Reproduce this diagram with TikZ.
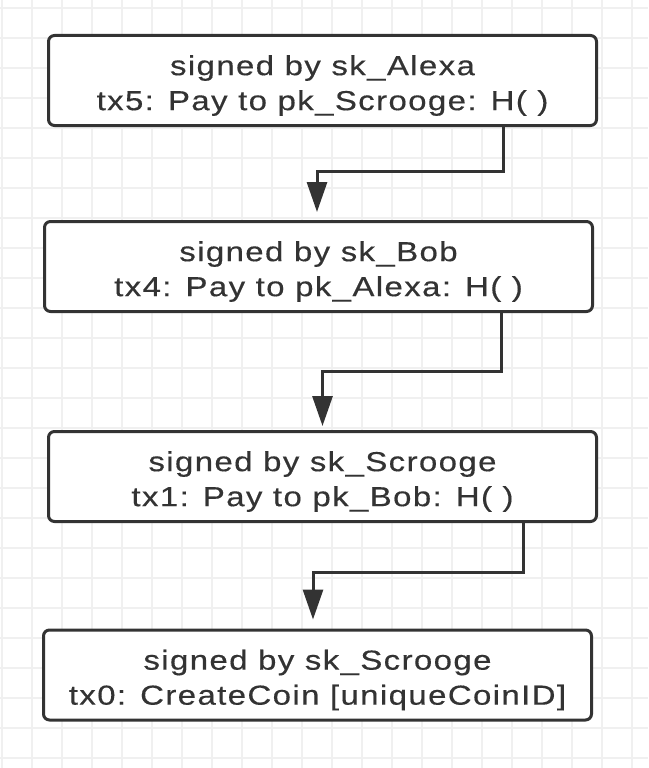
\documentclass[tikz,border=0pt]{standalone}
\usepackage{fontspec}
\setmainfont[FakeStretch=1.2,LetterSpace=5,FakeBold=0.4]{Liberation Sans}
\usetikzlibrary{arrows.meta}
\definecolor{ink}{HTML}{333333}
\definecolor{gridc}{HTML}{F0F0F0}
\begin{document}
\begin{tikzpicture}[x=1pt,y=-1pt,
  txbox/.style={draw=ink, line width=3pt, rounded corners=6pt, fill=white,
    minimum width=548pt, minimum height=90pt, inner sep=0pt, align=center,
    text=ink, font=\fontsize{27.5}{35}\selectfont},
  conn/.style={draw=ink, line width=3pt, -{Triangle[width=20pt,length=30pt]}},
  gridline/.style={draw=gridc, line width=1.5pt}]
\useasboundingbox (0,0) rectangle (648,768);
\fill[white] (0,0) rectangle (648,768);
\foreach \i in {0,...,21} \draw[gridline] (2+30*\i,0) -- (2+30*\i,768);
\foreach \j in {0,...,25} \draw[gridline] (0,8+30*\j) -- (648,8+30*\j);

\node[txbox] (b1) at (322.5,80.5) {\rule{0pt}{30pt}signed by sk\_Alexa\\tx5: Pay to pk\_Scrooge: H( )};
\node[txbox] (b2) at (318.5,266.5) {\rule{0pt}{30pt}signed by sk\_Bob\\tx4: Pay to pk\_Alexa: H( )};
\node[txbox] (b3) at (322.5,476.5) {\rule{0pt}{30pt}signed by sk\_Scrooge\\tx1: Pay to pk\_Bob: H( )};
\node[txbox] (b4) at (317.5,675) {\rule{0pt}{30pt}signed by sk\_Scrooge\\tx0: CreateCoin [uniqueCoinID]};

\draw[conn, shorten >=8pt] ([xshift=180.5pt]b1.south) -- ++(0,44) -| ([xshift=-1.5pt]b2.north);
\draw[conn, shorten >=4pt] ([xshift=182.5pt]b2.south) -- ++(0,58.5) -| (b3.north);
\draw[conn, shorten >=9pt] ([xshift=200.5pt]b3.south) -- ++(0,49) -| ([xshift=-4.5pt]b4.north);
\end{tikzpicture}
\end{document}
